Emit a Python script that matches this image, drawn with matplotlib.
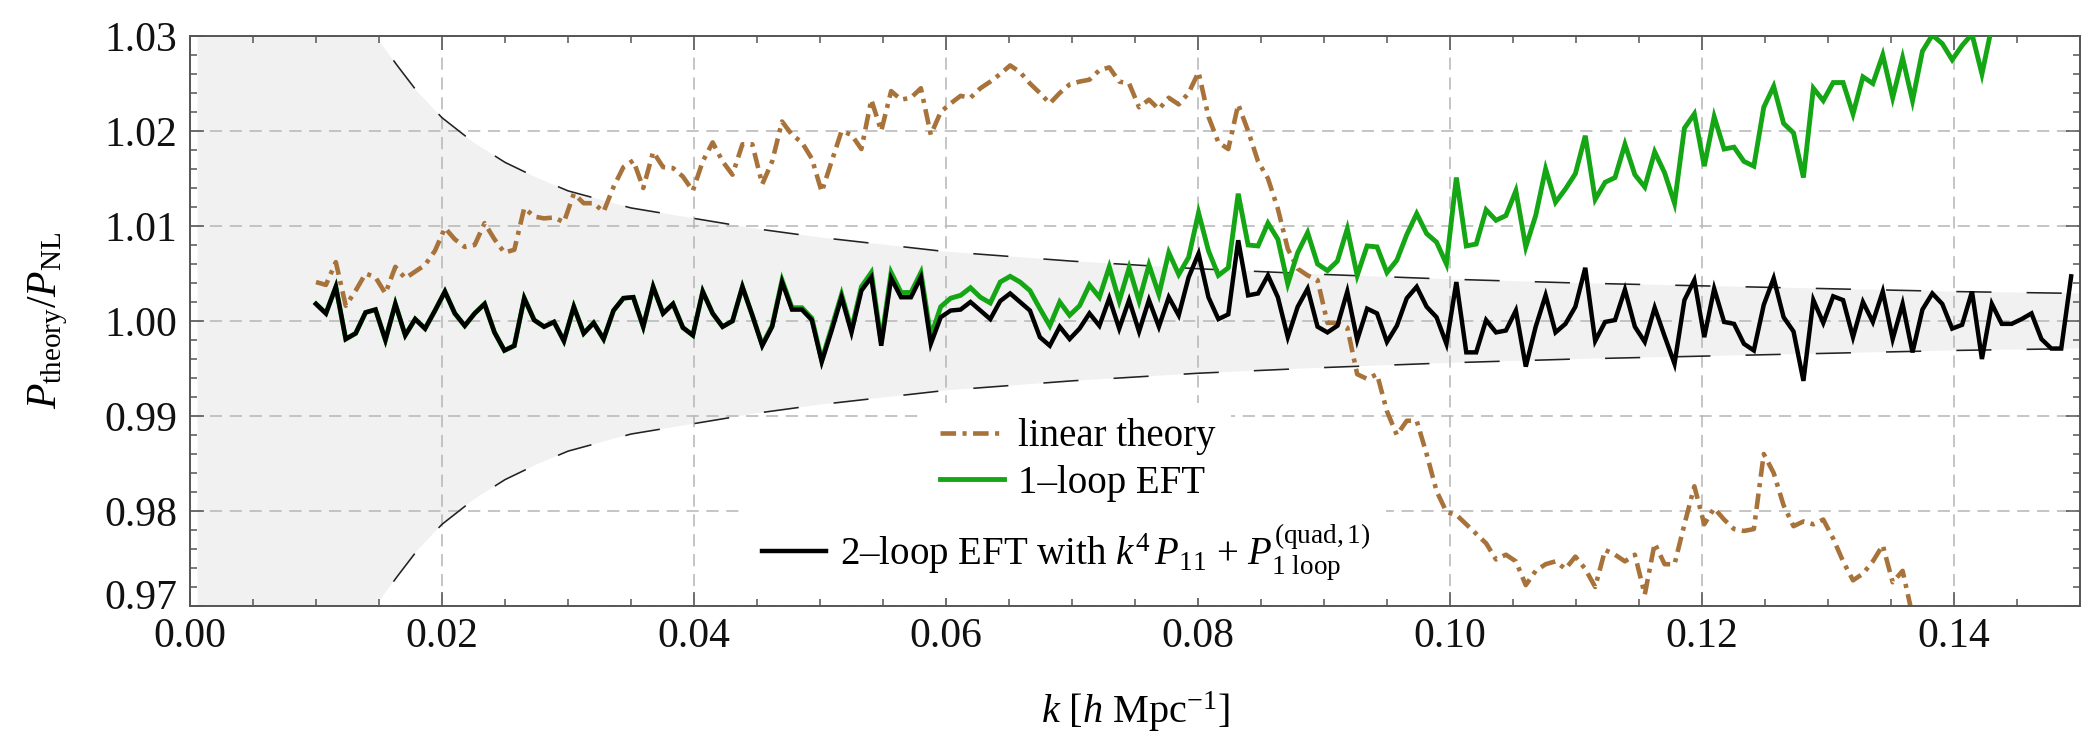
import numpy as np
import matplotlib
matplotlib.use("Agg")
import matplotlib.pyplot as plt
import matplotlib.transforms as mtransforms
from matplotlib.ticker import MultipleLocator, FormatStrFormatter

plt.rcParams['font.family'] = ['Liberation Serif', 'DejaVu Serif']
plt.rcParams['mathtext.fontset'] = 'custom'
plt.rcParams['mathtext.rm'] = 'Liberation Serif'
plt.rcParams['mathtext.it'] = 'Liberation Serif:italic'
plt.rcParams['mathtext.bf'] = 'Liberation Serif:bold'

# ---------------- data ----------------
K_START = 0.0100      # first k bin [h/Mpc]
K_STEP = 0.000787     # bin spacing [h/Mpc]

two_loop = [
    1.0018, 1.0008, 1.0036, 0.9981, 0.9987, 1.0009, 1.0012, 0.9980, 1.0018, 0.9985,
    1.0002, 0.9992, 1.0011, 1.0031, 1.0008, 0.9995, 1.0008, 1.0018, 0.9988, 0.9969,
    0.9974, 1.0024, 1.0001, 0.9994, 0.9999, 0.9979, 1.0015, 0.9987, 0.9998, 0.9981,
    1.0011, 1.0024, 1.0025, 0.9994, 1.0036, 1.0008, 1.0018, 0.9993, 0.9985, 1.0031,
    1.0008, 0.9994, 1.0000, 1.0036, 1.0006, 0.9974, 0.9994, 1.0041, 1.0012, 1.0012,
    1.0001, 0.9957, 0.9990, 1.0025, 0.9988, 1.0032, 1.0046, 0.9974, 1.0045, 1.0025,
    1.0025, 1.0046, 0.9976, 1.0004, 1.0011, 1.0012, 1.0020, 1.0011, 1.0002, 1.0021,
    1.0029, 1.0020, 1.0011, 0.9983, 0.9974, 0.9994, 0.9981, 0.9992, 1.0008, 0.9995,
    1.0024, 0.9992, 1.0022, 0.9989, 1.0022, 0.9994, 1.0025, 1.0006, 1.0046, 1.0071,
    1.0025, 1.0002, 1.0007, 1.0085, 1.0027, 1.0029, 1.0048, 1.0025, 0.9983, 1.0015,
    1.0034, 0.9994, 0.9988, 0.9995, 1.0031, 0.9980, 1.0013, 1.0008, 0.9978, 0.9995,
    1.0024, 1.0036, 1.0015, 1.0004, 0.9976, 1.0041, 0.9967, 0.9967, 1.0001, 0.9988,
    0.9990, 1.0011, 0.9952, 0.9994, 1.0027, 0.9988, 0.9997, 1.0015, 1.0056, 0.9979,
    0.9999, 1.0001, 1.0033, 0.9994, 0.9978, 1.0014, 0.9984, 0.9955, 1.0022, 1.0043,
    0.9983, 1.0034, 0.9999, 0.9997, 0.9976, 0.9969, 1.0017, 1.0045, 1.0004, 0.9989,
    0.9937, 1.0022, 0.9998, 1.0026, 1.0022, 0.9983, 1.0020, 0.9999, 1.0031, 0.9981,
    1.0018, 0.9967, 1.0012, 1.0029, 1.0018, 0.9992, 0.9996, 1.0031, 0.9960, 1.0018,
    0.9997, 0.9997, 1.0002, 1.0008, 0.9981, 0.9971, 0.9971, 1.0047,
]

one_loop = [
    1.0018, 1.0008, 1.0036, 0.9981, 0.9987, 1.0009, 1.0012, 0.9980, 1.0018, 0.9985,
    1.0002, 0.9992, 1.0011, 1.0031, 1.0008, 0.9995, 1.0008, 1.0018, 0.9988, 0.9969,
    0.9974, 1.0024, 1.0001, 0.9994, 0.9999, 0.9979, 1.0015, 0.9987, 0.9998, 0.9981,
    1.0011, 1.0024, 1.0025, 0.9994, 1.0036, 1.0008, 1.0018, 0.9993, 0.9985, 1.0031,
    1.0008, 0.9994, 1.0000, 1.0036, 1.0006, 0.9975, 0.9995, 1.0043, 1.0014, 1.0014,
    1.0003, 0.9959, 0.9993, 1.0028, 0.9991, 1.0036, 1.0051, 0.9978, 1.0051, 1.0030,
    1.0030, 1.0051, 0.9984, 1.0015, 1.0024, 1.0027, 1.0035, 1.0025, 1.0019, 1.0041,
    1.0047, 1.0041, 1.0032, 1.0013, 0.9995, 1.0020, 1.0006, 1.0016, 1.0038, 1.0025,
    1.0057, 1.0021, 1.0056, 1.0021, 1.0059, 1.0028, 1.0072, 1.0049, 1.0067, 1.0114,
    1.0074, 1.0048, 1.0056, 1.0134, 1.0080, 1.0079, 1.0103, 1.0086, 1.0039, 1.0072,
    1.0093, 1.0060, 1.0053, 1.0063, 1.0097, 1.0048, 1.0079, 1.0078, 1.0051, 1.0064,
    1.0091, 1.0113, 1.0092, 1.0083, 1.0060, 1.0151, 1.0079, 1.0081, 1.0117, 1.0106,
    1.0111, 1.0137, 1.0078, 1.0111, 1.0160, 1.0125, 1.0139, 1.0155, 1.0195, 1.0128,
    1.0146, 1.0151, 1.0186, 1.0154, 1.0141, 1.0178, 1.0156, 1.0124, 1.0203, 1.0218,
    1.0163, 1.0215, 1.0181, 1.0183, 1.0168, 1.0163, 1.0225, 1.0247, 1.0208, 1.0198,
    1.0151, 1.0245, 1.0232, 1.0251, 1.0251, 1.0218, 1.0257, 1.0250, 1.0280, 1.0235,
    1.0277, 1.0232, 1.0284, 1.0301, 1.0292, 1.0275, 1.0290, 1.0302, 1.0260, 1.0310,
    1.0340,
]

linear = [
    1.0041, 1.0038, 1.0062, 1.0016, 1.0032, 1.0050, 1.0046, 1.0029, 1.0057, 1.0045,
    1.0052, 1.0059, 1.0074, 1.0098, 1.0086, 1.0078, 1.0080, 1.0103, 1.0086, 1.0072,
    1.0075, 1.0119, 1.0110, 1.0108, 1.0109, 1.0104, 1.0134, 1.0124, 1.0124, 1.0115,
    1.0141, 1.0162, 1.0169, 1.0140, 1.0178, 1.0162, 1.0161, 1.0152, 1.0137, 1.0168,
    1.0188, 1.0168, 1.0154, 1.0186, 1.0186, 1.0144, 1.0168, 1.0210, 1.0196, 1.0188,
    1.0171, 1.0136, 1.0168, 1.0200, 1.0196, 1.0181, 1.0233, 1.0200, 1.0242, 1.0233,
    1.0235, 1.0245, 1.0196, 1.0220, 1.0229, 1.0237, 1.0235, 1.0245, 1.0252, 1.0260,
    1.0269, 1.0262, 1.0250, 1.0240, 1.0229, 1.0240, 1.0249, 1.0252, 1.0254, 1.0264,
    1.0267, 1.0252, 1.0250, 1.0225, 1.0233, 1.0223, 1.0235, 1.0228, 1.0240, 1.0262,
    1.0215, 1.0188, 1.0181, 1.0228, 1.0200, 1.0168, 1.0150, 1.0118, 1.0076, 1.0055,
    1.0048, 1.0043, 0.9998, 0.9998, 0.9993, 0.9944, 0.9939, 0.9944, 0.9905, 0.9880,
    0.9895, 0.9895, 0.9860, 0.9821, 0.9799, 0.9796, 0.9786, 0.9776, 0.9766, 0.9749,
    0.9754, 0.9747, 0.9722, 0.9737, 0.9744, 0.9747, 0.9739, 0.9752, 0.9739, 0.9720,
    0.9759, 0.9754, 0.9747, 0.9754, 0.9712, 0.9766, 0.9744, 0.9744, 0.9786, 0.9826,
    0.9786, 0.9803, 0.9791, 0.9781, 0.9779, 0.9781, 0.9860, 0.9840, 0.9806, 0.9784,
    0.9789, 0.9786, 0.9791, 0.9771, 0.9747, 0.9727, 0.9734, 0.9747, 0.9764, 0.9725,
    0.9737, 0.9690,
]

# error band (dashed curves)
band_k = [0.0006, 0.004, 0.008, 0.011, 0.013, 0.014, 0.015, 0.0165, 0.018, 0.020,
          0.0225, 0.025, 0.0275, 0.030, 0.035, 0.040, 0.045, 0.050, 0.060, 0.070,
          0.080, 0.090, 0.100, 0.110, 0.120, 0.130, 0.140, 0.150]
band_upper = [1.5000, 1.1100, 1.0540, 1.0390, 1.0335, 1.0320, 1.0295, 1.0268, 1.0242, 1.0214,
              1.0188, 1.0167, 1.0151, 1.0137, 1.0119, 1.0108, 1.0097, 1.0088, 1.0073, 1.0063,
              1.0055, 1.0049, 1.0044, 1.0040, 1.0037, 1.0034, 1.0031, 1.0029]
band_lower = [0.5000, 0.8900, 0.9460, 0.9610, 0.9665, 0.9680, 0.9705, 0.9732, 0.9758, 0.9786,
              0.9812, 0.9833, 0.9849, 0.9863, 0.9881, 0.9892, 0.9903, 0.9912, 0.9927, 0.9937,
              0.9945, 0.9951, 0.9956, 0.9960, 0.9963, 0.9966, 0.9969, 0.9971]

x_ticks = [0.00, 0.02, 0.04, 0.06, 0.08, 0.10, 0.12, 0.14]
y_ticks = [0.97, 0.98, 0.99, 1.00, 1.01, 1.02, 1.03]

labels = ['linear theory', '1\u2013loop EFT',
          '2\u2013loop EFT with $k^4\\,P_{11}$ + $P_{1\\ \\mathrm{loop}}^{(\\mathrm{quad},1)}$']

# ---------------- style ----------------
W, H = 2083, 734
BROWN = '#a8733a'
GREEN = '#14a614'
BLACK = '#000000'
FILL = '#f1f1f1'
AXC = '#555555'

fig = plt.figure(figsize=(W / 100, H / 100), dpi=100)
ax = fig.add_axes([190 / W, (H - 606) / H, (2080 - 190) / W, 570 / H])

ax.set_xlim(0, 0.15)
ax.set_ylim(0.97, 1.03)

def kgrid(n):
    return K_START + K_STEP * np.arange(n)

bk = np.array(band_k)
ax.fill_between(bk, band_lower, band_upper, color=FILL, lw=0, zorder=0.1)
sel = bk >= 0.013
ax.plot(bk[sel], np.array(band_upper)[sel], color='#222222', lw=1.15,
        dashes=(22, 22), zorder=1)
ax.plot(bk[sel], np.array(band_lower)[sel], color='#222222', lw=1.15,
        dashes=(22, 22), zorder=1)

dd = (3.4, 1.4, 0.9, 1.4)
h_lin, = ax.plot(kgrid(len(linear)), linear, color=BROWN, lw=3.3,
                 dashes=dd, zorder=2)
h_one, = ax.plot(kgrid(len(one_loop)), one_loop, color=GREEN, lw=3.5,
                 zorder=3, solid_joinstyle='miter')
h_two, = ax.plot(kgrid(len(two_loop)), two_loop, color=BLACK, lw=3.2,
                 zorder=4, solid_joinstyle='miter')

# grid
ax.set_axisbelow(True)
ax.grid(True, which='major', color='#b5b5b5', lw=1.1, dashes=(8, 5))

# ticks
ax.set_xticks(x_ticks)
ax.set_yticks(y_ticks)
ax.xaxis.set_minor_locator(MultipleLocator(0.005))
ax.yaxis.set_minor_locator(MultipleLocator(0.002))
ax.xaxis.set_major_formatter(FormatStrFormatter('%.2f'))
ax.yaxis.set_major_formatter(FormatStrFormatter('%.2f'))
ax.tick_params(which='both', direction='in', top=True, right=True, color=AXC,
               width=1.1, labelsize=30, labelcolor='#111111')
ax.tick_params(which='major', length=10)
ax.tick_params(which='minor', length=5)
ax.tick_params(axis='x', pad=8)
ax.tick_params(axis='y', pad=9)
for s in ax.spines.values():
    s.set_color(AXC)
    s.set_linewidth(1.4)

# lift the lowest y label slightly, as in the reference, so it clears "0.00"
lowest = ax.yaxis.get_major_ticks()[0].label1
lowest.set_transform(lowest.get_transform() +
                     mtransforms.ScaledTranslation(0, 12 / 100, fig.dpi_scale_trans))

ax.set_xlabel('$k$ [$h$ Mpc$^{-1}$]', fontsize=29)
ax.xaxis.label.set_va('center')
ax.xaxis.set_label_coords(0.5, (606 - 712) / 570)
ax.set_ylabel('$P_{\\mathrm{theory}}/P_{\\mathrm{NL}}$', fontsize=30)
ax.yaxis.label.set_va('center')
ax.yaxis.set_label_coords((48 - 190) / 1890, 0.5)

# legends (two boxes, as in the reference)
common = dict(loc='center left', bbox_transform=fig.transFigure, frameon=True,
              facecolor='white', edgecolor='none', framealpha=1, fancybox=False,
              fontsize=28, handlelength=1.65, handletextpad=0.36,
              labelspacing=0.25, borderpad=0.4, borderaxespad=0)
leg1 = ax.legend([h_lin, h_one], labels[:2],
                 bbox_to_anchor=(924 / W, 1 - 460 / H), **common)
ax.add_artist(leg1)
leg2 = ax.legend([h_two], labels[2:],
                 bbox_to_anchor=(746 / W, 1 - 552 / H), **common)

fig.savefig('out.png', dpi=100)
